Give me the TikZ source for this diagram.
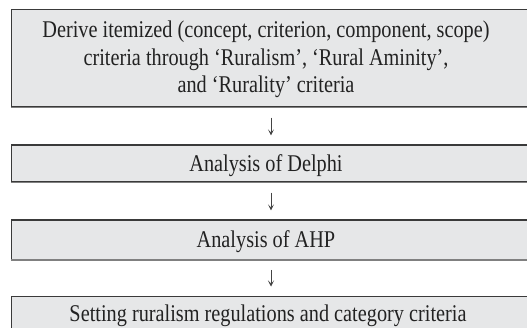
\documentclass[tikz,border=0pt]{standalone}
\usepackage{fontspec}
\setmainfont[FakeStretch=0.845]{Liberation Serif}
\usetikzlibrary{arrows.meta}
\definecolor{boxfill}{HTML}{E6E7E8}
\definecolor{boxline}{HTML}{3A3A3A}
\definecolor{boxbottom}{HTML}{808080}
\definecolor{arrcol}{HTML}{444444}
\definecolor{txt}{HTML}{222222}
\begin{document}
\begin{tikzpicture}[x=1pt,y=-1pt,
  stepbox/.style={draw=boxline, line width=1.1pt, fill=boxfill, inner sep=0pt,
    minimum width=519.4pt},
  label/.style={anchor=base, inner sep=0pt, text=txt, font=\fontsize{24}{27.5}\selectfont},
  bottomedge/.style={draw=boxbottom, line width=1.8pt},
  arr/.style={draw=arrcol, line width=0.9pt, -{Stealth[length=6pt,width=6pt,inset=3pt]},
    shorten <=10pt, shorten >=9pt}
]
\useasboundingbox (0,0) rectangle (527,327);
\clip (0,0) rectangle (527,327);
\node[stepbox, minimum height=97.5pt] (b1) at (271,58.25) {};
\node[stepbox, minimum height=37pt] (b2) at (271,163.5) {};
\node[stepbox, minimum height=39.3pt] (b3) at (271,239.65) {};
\node[stepbox, minimum height=40pt, anchor=north] (b4) at (271,295.5) {};
\node[label] (t1a) at (266,37.7) {Derive itemized (concept, criterion, component, scope)};
\node[label] (t1b) at (266,65.2) {criteria through ‘Ruralism’, ‘Rural Aminity’,};
\node[label] (t1c) at (266,92.7) {and ‘Rurality’ criteria};
\node[label] (t2) at (266,171.3) {Analysis of Delphi};
\node[label] (t3) at (266,247.2) {Analysis of AHP};
\node[label] (t4) at (268,321) {Setting ruralism regulations and category criteria};
\foreach \b in {b1,b2,b3}{
  \draw[bottomedge] (\b.south west) -- (\b.south east);
}
\draw[arr] (b1) -- (b2);
\draw[arr] (b2) -- (b3);
\draw[arr] (b3) -- (b4);
\end{tikzpicture}
\end{document}
